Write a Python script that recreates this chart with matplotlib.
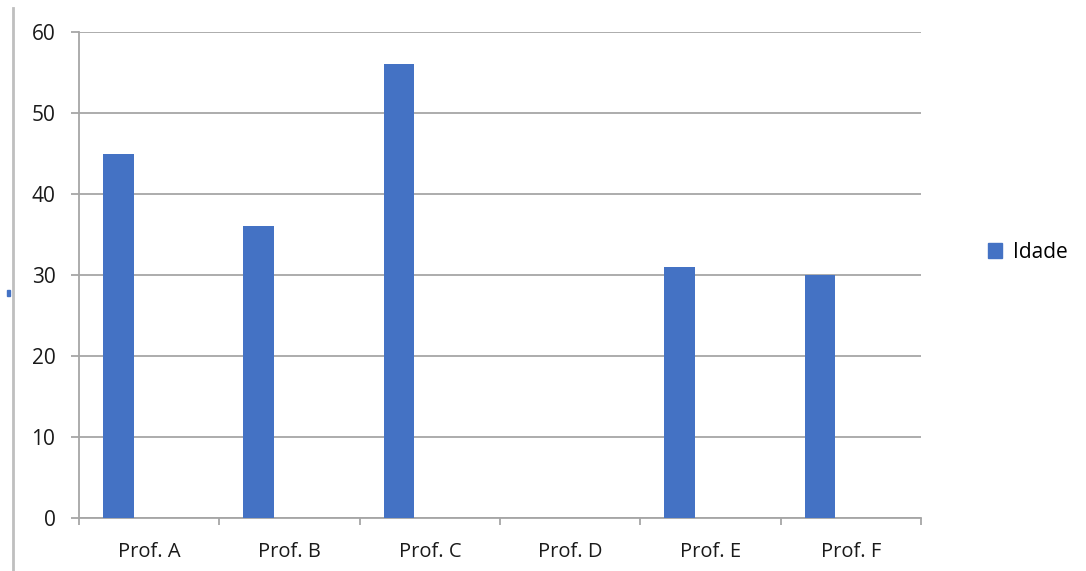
import matplotlib.pyplot as plt
import matplotlib.lines as mlines
import matplotlib.patches as mpatches
import numpy as np

categorias = ["Prof. A", "Prof. B", "Prof. C", "Prof. D", "Prof. E", "Prof. F"]
idade = [45, 36, 56, 0, 31, 30]
y_ticks = [0, 10, 20, 30, 40, 50, 60]

plt.rcParams['font.family'] = ['Open Sans', 'DejaVu Sans']

fig = plt.figure(figsize=(10.86, 5.71), dpi=100)
ax = fig.add_axes([79 / 1086, 1 - 518 / 571, (921 - 79) / 1086, (518 - 32) / 571])

cor = '#4472C4'
cinza = '#A6A6A6'

x = np.arange(len(categorias))
# barra deslocada para a esquerda do slot, como no Excel
ax.bar(x - 0.22, idade, width=0.22, color=cor, zorder=3)

ax.set_xlim(-0.5, len(categorias) - 0.5)
ax.set_ylim(0, 60)
ax.set_yticks(y_ticks)
ax.set_xticks(x)
ax.set_xticklabels(categorias)
ax.set_xticks(np.arange(len(categorias) + 1) - 0.5, minor=True)

ax.yaxis.grid(True, color=cinza, linewidth=1.3, zorder=0)
ax.set_axisbelow(True)

for s in ['top', 'right']:
    ax.spines[s].set_visible(False)
for s in ['left', 'bottom']:
    ax.spines[s].set_color(cinza)
    ax.spines[s].set_linewidth(1.3)

ax.tick_params(axis='y', length=6, width=1.3, color=cinza, pad=11, labelsize=15, labelcolor='#1a1a1a')
ax.tick_params(axis='x', which='major', length=0, pad=17.5, labelsize=14.5, labelcolor='#1a1a1a')
ax.tick_params(axis='x', which='minor', length=5, width=1.3, color=cinza)

# legenda
ax.legend(handles=[mpatches.Patch(color=cor, label='Idade')], loc='center left',
          bbox_to_anchor=(969 / 1086, 1 - 252 / 571), bbox_transform=fig.transFigure,
          frameon=False, fontsize=15, handlelength=0.7, handleheight=0.7, handletextpad=0.5)

# borda cinza à esquerda
fig.add_artist(mlines.Line2D([13 / 1086, 13 / 1086], [0, 1 - 8 / 571], color='#BFBFBF', linewidth=2))
fig.add_artist(mpatches.Rectangle((7 / 1086, 1 - 296 / 571), 3 / 1086, 6 / 571, color=cor))

fig.savefig("out.png", dpi=100)
